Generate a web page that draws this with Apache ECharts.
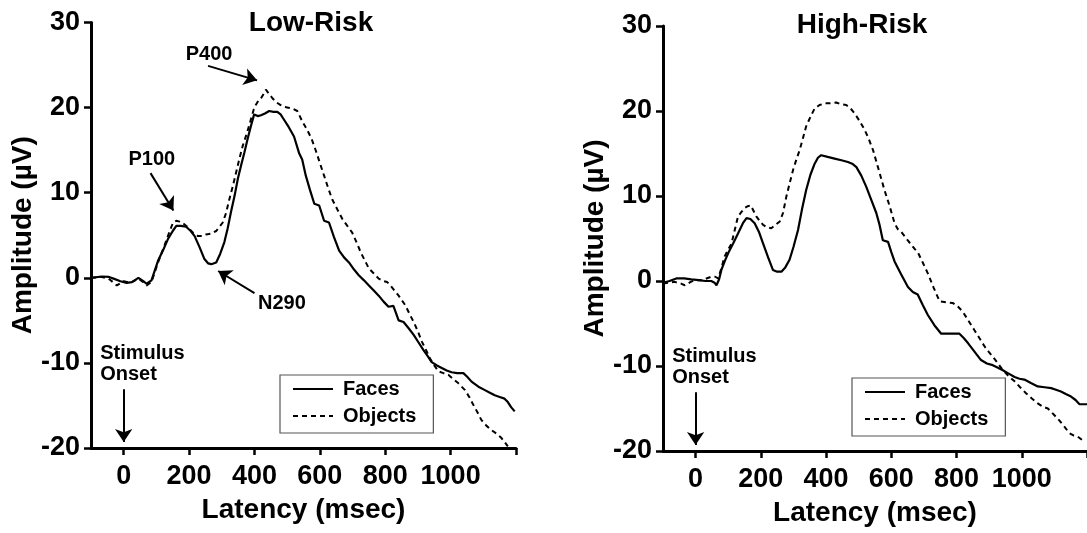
<!DOCTYPE html>
<html><head><meta charset="utf-8">
<script src="https://cdn.jsdelivr.net/npm/echarts@6/dist/echarts.min.js"></script>
<style>html,body{margin:0;padding:0;background:#fff}#c{width:1087px;height:533px}</style>
</head><body><div id="c"></div>
<script>
// Latency (msec) / amplitude (µV) pairs
const lowFaces = [[-100,0.0],[-67,0.15],[-45,0.1],[-31,-0.1],[-10,-0.4],[9,-0.6],[25,-0.5],[45,0.0],[60,-0.4],[70,-0.7],[85,-0.3],[105,2.0],[120,3.2],[136,4.6],[150,5.5],[161,6.1],[175,6.1],[191,6.0],[205,5.5],[217,4.9],[232,3.6],[247,2.2],[258,1.7],[268,1.6],[283,1.8],[295,2.8],[308,4.2],[318,5.8],[328,7.7],[339,9.6],[349,11.6],[359,13.2],[369,14.7],[379,16.3],[389,17.8],[399,19.2],[410,19.0],[420,19.1],[432,19.3],[445,19.6],[458,19.5],[470,19.5],[480,19.2],[490,18.6],[505,17.7],[521,16.6],[537,14.6],[546,13.9],[557,12.0],[570,10.3],[583,8.7],[598,8.5],[613,6.7],[628,6.5],[643,4.8],[659,3.2],[674,2.4],[689,1.8],[704,1.0],[719,0.3],[735,-0.3],[750,-0.9],[765,-1.5],[780,-2.1],[795,-2.8],[810,-3.4],[825,-3.3],[841,-5.0],[856,-5.2],[871,-5.9],[887,-6.7],[902,-7.6],[917,-8.5],[930,-9.2],[942,-9.9],[958,-10.3],[973,-10.6],[988,-10.9],[1003,-11.1],[1020,-11.2],[1039,-11.2],[1050,-11.6],[1064,-12.2],[1085,-12.8],[1105,-13.2],[1120,-13.5],[1135,-13.8],[1150,-14.0],[1165,-14.2],[1175,-14.6],[1185,-15.2],[1196,-15.7]];
const lowObjects = [[-100,0.0],[-67,0.1],[-46,-0.1],[-30,-0.6],[-21,-0.9],[0,-0.4],[20,-0.6],[45,-0.1],[60,-0.5],[70,-0.9],[85,-0.5],[105,1.8],[120,3.3],[136,5.0],[151,6.5],[161,6.7],[171,6.6],[185,6.3],[197,5.9],[212,5.3],[227,4.9],[240,4.9],[252,5.1],[268,5.2],[283,5.5],[293,6.0],[303,6.5],[313,7.6],[323,9.2],[334,10.8],[344,12.4],[354,14.0],[364,15.5],[377,17.0],[389,18.6],[398,19.8],[404,20.3],[412,20.8],[420,21.1],[428,21.6],[435,22.1],[445,21.6],[455,21.1],[468,20.6],[480,20.3],[500,20.0],[515,19.9],[531,19.6],[546,18.4],[561,17.4],[575,16.3],[588,14.9],[600,13.5],[613,12.0],[625,10.6],[638,9.2],[654,8.0],[669,6.9],[684,6.1],[699,5.3],[712,4.2],[725,3.0],[738,2.0],[750,1.1],[765,0.5],[780,-0.1],[795,-0.4],[806,-0.5],[820,-1.1],[841,-2.1],[861,-3.2],[875,-4.3],[887,-5.2],[900,-6.3],[912,-7.5],[925,-8.5],[937,-9.5],[950,-10.3],[963,-11.0],[978,-11.2],[993,-11.4],[1008,-11.9],[1024,-12.4],[1044,-13.2],[1057,-14.0],[1069,-14.9],[1082,-15.8],[1094,-16.7],[1110,-17.4],[1125,-17.9],[1140,-18.3],[1155,-18.8],[1165,-19.3],[1175,-19.8]];
const highFaces = [[-100,-0.2],[-80,0.0],[-59,0.3],[-35,0.3],[-13,0.2],[10,0.1],[30,0.0],[48,0.0],[58,-0.2],[64,-0.5],[72,0.2],[79,1.3],[90,2.4],[100,3.3],[115,4.4],[130,5.6],[145,6.8],[156,7.4],[168,7.3],[181,6.8],[195,5.7],[207,4.4],[222,2.8],[237,1.3],[250,1.1],[263,1.1],[275,1.6],[288,2.5],[300,4.0],[314,6.0],[326,8.4],[339,10.7],[352,12.5],[365,13.8],[375,14.5],[385,14.8],[405,14.6],[426,14.4],[447,14.2],[467,14.0],[480,13.8],[493,13.4],[508,12.4],[523,11.1],[538,9.6],[554,8.0],[564,6.6],[574,4.8],[590,4.6],[600,3.4],[610,2.3],[630,0.8],[651,-0.7],[666,-1.3],[681,-1.6],[696,-2.8],[712,-4.0],[732,-5.2],[753,-6.2],[780,-6.2],[809,-6.2],[822,-6.7],[835,-7.3],[855,-8.3],[875,-9.3],[893,-9.7],[911,-9.9],[927,-10.2],[942,-10.5],[960,-10.9],[978,-11.3],[993,-11.5],[1008,-11.6],[1028,-12.0],[1049,-12.4],[1070,-12.5],[1090,-12.6],[1105,-12.8],[1120,-13.0],[1135,-13.3],[1151,-13.6],[1165,-14.0],[1177,-14.5],[1200,-14.5]];
const highObjects = [[-100,-0.3],[-82,-0.2],[-64,-0.1],[-45,-0.3],[-33,-0.5],[-15,-0.1],[-2,0.1],[20,0.1],[48,0.5],[60,0.5],[69,0.3],[79,1.5],[89,2.9],[100,3.7],[110,4.4],[120,6.0],[130,7.6],[140,8.1],[151,8.6],[160,8.8],[169,8.9],[177,8.3],[186,7.6],[196,7.1],[207,6.6],[220,6.3],[232,6.2],[245,6.6],[258,7.0],[268,8.0],[278,9.9],[289,11.6],[299,13.1],[309,14.3],[319,15.4],[329,16.8],[339,18.2],[352,19.3],[365,20.3],[380,20.7],[396,20.9],[413,20.9],[431,21.0],[446,20.8],[462,20.7],[475,20.3],[488,19.7],[503,18.8],[518,17.8],[531,16.7],[544,15.4],[559,13.4],[579,10.7],[595,8.8],[610,6.8],[620,6.1],[630,5.8],[650,4.8],[671,3.8],[681,3.4],[696,2.2],[712,0.9],[730,-0.8],[748,-2.4],[768,-2.5],[789,-2.6],[804,-3.0],[819,-3.6],[837,-4.7],[855,-5.8],[870,-6.7],[886,-7.7],[900,-8.4],[911,-8.9],[927,-9.7],[942,-10.5],[960,-11.2],[978,-11.8],[995,-12.5],[1013,-13.2],[1030,-13.8],[1049,-14.4],[1065,-14.8],[1080,-15.0],[1098,-15.7],[1115,-16.4],[1130,-17.1],[1146,-17.9],[1160,-18.2],[1171,-18.3],[1192,-18.9]];

const xTickValues = [0,200,400,600,800,1000,1200];
const xLabelValues = [0,200,400,600,800,1000];
const panelTitles = ['Low-Risk','High-Risk'];
const seriesNames = ['Faces','Objects'];

// annotations: [text, latency, amplitude]
const lowLabels = [['P400',261,26.3],['P100',86,13.9],['N290',484,-3.0]];
// arrows: [[fromLatency, fromAmp],[toLatency,toAmp]]
const lowArrows = [[[258,24.9],[408,23.2]],[[82,12.3],[152,7.9]],[[400,-1.8],[289,0.8]],[[0,-13.1],[0,-19.3]]];
const highArrows = [[[0,-13.1],[0,-19.3]]];
const onsetLabel = ['Stimulus\nOnset',-72,-10.1];

const FONT = '"Liberation Sans", Arial, Helvetica, sans-serif';
const chart = echarts.init(document.getElementById('c'), null, {renderer:'canvas'});

function xAxis(i){
  return {type:'value', gridIndex:i, min:-100, max:1200,
    name:'Latency (msec)', nameLocation:'middle', nameGap:48,
    nameTextStyle:{fontFamily:FONT, fontWeight:'bold', fontSize:28, color:'#000'},
    axisLine:{onZero:false, lineStyle:{color:'#000', width:3}},
    axisTick:{show:true, customValues:xTickValues, length:7, lineStyle:{color:'#000', width:2.5}},
    axisLabel:{customValues:xLabelValues, margin:15, fontFamily:FONT, fontWeight:'bold', fontSize:27, color:'#000',
      formatter:v=>String(v)},
    splitLine:{show:false}};
}
function yAxis(i){
  return {type:'value', gridIndex:i, min:-20, max:30, interval:10,
    name:'Amplitude (µV)', nameLocation:'middle', nameGap:52, nameRotate:90,
    nameTextStyle:{fontFamily:FONT, fontWeight:'bold', fontSize:28, color:'#000'},
    axisLine:{show:true, onZero:false, lineStyle:{color:'#000', width:3}},
    axisTick:{show:true, length:7, lineStyle:{color:'#000', width:2.5}},
    axisLabel:{margin:11, fontFamily:FONT, fontWeight:'bold', fontSize:27, color:'#000'},
    splitLine:{show:false}};
}
function arrowLines(arr){
  return {silent:true, animation:false, symbol:['none','arrow'], symbolSize:13,
    lineStyle:{color:'#000', width:2, type:'solid'}, label:{show:false},
    data: arr.map(a=>[{coord:a[0]},{coord:a[1]}])};
}
function labelPoints(arr){
  return {silent:true, animation:false, symbol:'rect', symbolSize:1,
    itemStyle:{color:'rgba(0,0,0,0)'},
    label:{show:true, position:'inside', formatter:p=>p.name, color:'#000',
      fontFamily:FONT, fontWeight:'bold', fontSize:20},
    data: arr.map(a=>({name:a[0], coord:[a[1],a[2]], value:0}))};
}
const onsetPoint = {name:onsetLabel[0], coord:[onsetLabel[1],onsetLabel[2]], value:0,
  label:{align:'left', verticalAlign:'middle', lineHeight:21, position:'inside', offset:[0,0]}};

function legend(left, top){
  return {orient:'vertical', left:left, top:top, data:seriesNames, align:'left',
    itemWidth:40, itemHeight:14, itemGap:7, padding:[4,17,7,12],
    borderColor:'#555', borderWidth:1.2, selectedMode:false,
    itemStyle:{opacity:0, borderWidth:0},
    textStyle:{fontFamily:FONT, fontWeight:'bold', fontSize:20, color:'#000', padding:[0,0,0,5], lineHeight:20}};
}

const lineCommon = {type:'line', showSymbol:false, symbol:'none', animation:false, silent:true,
  itemStyle:{color:'#000'}};

const option = {
  animation:false,
  grid:[{left:91, top:22.5, width:425, height:425.5},
        {left:663, top:26, width:424.5, height:425}],
  xAxis:[xAxis(0), xAxis(1)],
  yAxis:[yAxis(0), yAxis(1)],
  legend:[legend(280,375), legend(852,378)],
  graphic:[
    {type:'text', x:311, y:23, style:{text:panelTitles[0], textAlign:'center', textVerticalAlign:'middle', font:'bold 28px '+FONT, fill:'#000'}},
    {type:'text', x:862, y:25, style:{text:panelTitles[1], textAlign:'center', textVerticalAlign:'middle', font:'bold 28px '+FONT, fill:'#000'}}
  ],
  series:[
    Object.assign({}, lineCommon, {name:seriesNames[1], xAxisIndex:0, yAxisIndex:0, data:lowObjects,
      lineStyle:{color:'#000', width:2, type:[5,4]}}),
    Object.assign({}, lineCommon, {name:seriesNames[0], xAxisIndex:0, yAxisIndex:0, data:lowFaces,
      lineStyle:{color:'#000', width:2.2, type:'solid'},
      markLine:arrowLines(lowArrows),
      markPoint:Object.assign(labelPoints(lowLabels), {data: labelPoints(lowLabels).data.concat([onsetPoint])})}),
    Object.assign({}, lineCommon, {name:seriesNames[1], xAxisIndex:1, yAxisIndex:1, data:highObjects,
      lineStyle:{color:'#000', width:2, type:[5,4]}}),
    Object.assign({}, lineCommon, {name:seriesNames[0], xAxisIndex:1, yAxisIndex:1, data:highFaces,
      lineStyle:{color:'#000', width:2.2, type:'solid'},
      markLine:arrowLines(highArrows),
      markPoint:Object.assign(labelPoints([]), {data:[onsetPoint]})})
  ]
};
chart.setOption(option);
</script></body></html>
